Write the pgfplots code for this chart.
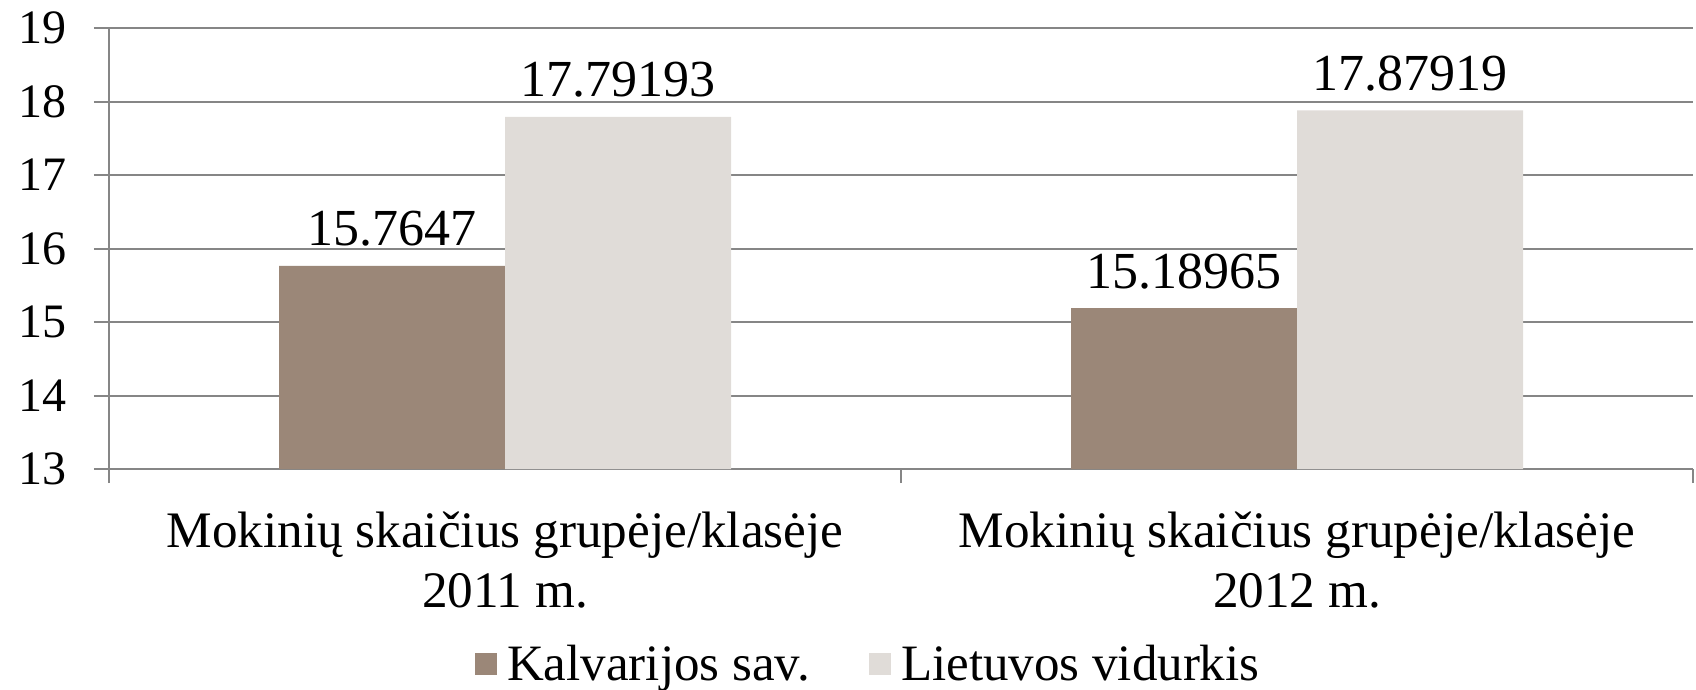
\documentclass[border=0pt]{standalone}
\usepackage{fontspec}
\setmainfont{Liberation Serif}
\usepackage{pgfplots}
\pgfplotsset{compat=1.18}
\definecolor{brownbar}{RGB}{155,135,120}
\definecolor{graybar}{RGB}{224,220,216}
\definecolor{gridgray}{RGB}{134,134,134}
\begin{document}
\begin{tikzpicture}
\begin{axis}[
 scale only axis, width=792pt, height=220.5pt,
 xmin=-0.5, xmax=1.5, ymin=13, ymax=19,
 ybar=0pt, bar width=113pt,
 ytick={13,14,15,16,17,18,19},
 xtick={0,1},
 xticklabels={{Mokinių skaičius grupėje/klasėje\\2011 m.},{Mokinių skaičius grupėje/klasėje\\2012 m.}},
 xticklabel style={align=center, font=\fontsize{25.6}{30}\selectfont, yshift=-10.5pt},
 yticklabel style={font=\fontsize{24}{28.8}\selectfont, xshift=-10.4pt},
 /pgf/number format/assume math mode=true,
 minor xtick={-0.5,0.5,1.5},
 major x tick style={draw=none},
 tick align=outside,
 major tick length=7.5pt, minor tick length=7pt,
 ymajorgrids, grid style={gridgray, line width=1pt},
 axis x line*=bottom, axis y line*=left,
 axis line style={gridgray, line width=1pt},
 every tick/.style={gridgray, line width=1pt},
 point meta=explicit symbolic,
 nodes near coords,
 every node near coord/.append style={font=\fontsize{26}{30}\selectfont, black, yshift=6pt},
 legend style={at={(0.480,-0.442)}, anchor=center, draw=none, legend columns=2,
   font=\fontsize{25.5}{30}\selectfont,
   /tikz/every even column/.append style={column sep=27.7pt}},
 legend image code/.code={\fill[#1] (0pt,-5.5pt) rectangle (11pt,5.5pt);},
]
\addplot[fill=brownbar, draw=none] coordinates {(0,15.7647) [15.7647] (1,15.18965) [15.18965]};
\addplot[fill=graybar, draw=none] coordinates {(0,17.79193) [17.79193] (1,17.87919) [17.87919]};
\legend{\hspace{3pt}Kalvarijos sav., \hspace{3pt}Lietuvos vidurkis}
\coordinate (O) at (rel axis cs:0,0);
\end{axis}
\pgfresetboundingbox
\path ([shift={(-54.5pt,-110.5pt)}]O) rectangle ([shift={(793.5pt,234.5pt)}]O);
\end{tikzpicture}
\end{document}
